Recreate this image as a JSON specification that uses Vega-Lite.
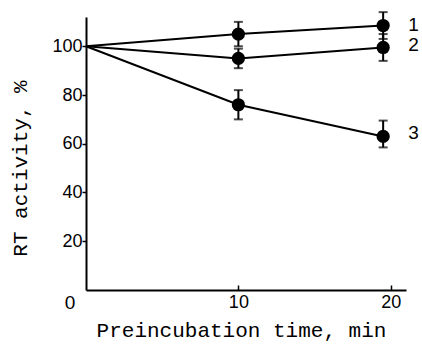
{
  "$schema": "https://vega.github.io/schema/vega-lite/v6.json",
  "width": 320,
  "height": 273,
  "autosize": "none",
  "padding": {"left": 86, "top": 17, "right": 16, "bottom": 60},
  "background": "white",
  "config": {"view": {"stroke": null}},
  "datasets": {
    "pts": [
      {"series": "1", "time": 0, "activity": 100},
      {"series": "1", "time": 10, "activity": 105, "lo": 100, "hi": 110},
      {"series": "1", "time": 19.5, "activity": 108.5, "lo": 103, "hi": 114},
      {"series": "2", "time": 0, "activity": 100},
      {"series": "2", "time": 10, "activity": 95, "lo": 91, "hi": 99},
      {"series": "2", "time": 19.5, "activity": 99.5, "lo": 94, "hi": 105},
      {"series": "3", "time": 0, "activity": 100},
      {"series": "3", "time": 10, "activity": 76, "lo": 70, "hi": 82},
      {"series": "3", "time": 19.5, "activity": 63, "lo": 58.5, "hi": 69.5}
    ],
    "labels": [
      {"label": "1", "time": 21.5, "activity": 108.7},
      {"label": "2", "time": 21.5, "activity": 100.5},
      {"label": "3", "time": 21.5, "activity": 64.4},
      {"label": "0", "time": -1.05, "activity": -5.5}
    ]
  },
  "layer": [
    {
      "data": {"name": "pts"},
      "mark": {"type": "line", "color": "black", "strokeWidth": 2},
      "encoding": {
        "x": {
          "field": "time", "type": "quantitative",
          "title": "Preincubation time, min",
          "scale": {"domain": [0, 21], "nice": false},
          "axis": {
            "values": [10, 20], "grid": false,
            "domainColor": "black", "domainWidth": 2,
            "tickColor": "black", "tickWidth": 1.5, "tickSize": -5,
            "labelFont": "Liberation Sans", "labelFontSize": 18, "labelColor": "black",
            "labelPadding": 8,
            "titleFont": "Liberation Mono", "titleFontSize": 21, "titleFontWeight": "normal",
            "titleColor": "black", "titleX": 155, "titleY": 40, "titleBaseline": "middle"
          }
        },
        "y": {
          "field": "activity", "type": "quantitative",
          "title": "RT activity, %",
          "scale": {"domain": [0, 112], "nice": false},
          "axis": {
            "values": [20, 40, 60, 80, 100], "grid": false,
            "domainColor": "black", "domainWidth": 2,
            "tickColor": "black", "tickWidth": 1.5, "tickSize": 4,
            "labelFont": "Liberation Sans", "labelFontSize": 18, "labelColor": "black",
            "labelPadding": 0,
            "titleFont": "Liberation Mono", "titleFontSize": 21, "titleFontWeight": "normal",
            "titleColor": "black", "titleX": -66, "titleY": 151, "titleBaseline": "middle", "titleAngle": 270
          }
        },
        "detail": {"field": "series"}
      }
    },
    {
      "data": {"name": "pts"},
      "transform": [{"filter": "datum.time > 0"}],
      "mark": {"type": "errorbar", "color": "black", "thickness": 2, "ticks": {"size": 9, "thickness": 2, "color": "black"}},
      "encoding": {
        "x": {"field": "time", "type": "quantitative", "title": "Preincubation time, min"},
        "y": {"field": "lo", "type": "quantitative", "title": "RT activity, %"},
        "y2": {"field": "hi"},
        "detail": {"field": "series"}
      }
    },
    {
      "data": {"name": "pts"},
      "transform": [{"filter": "datum.time > 0"}],
      "mark": {"type": "point", "filled": true, "color": "black", "opacity": 1, "size": 175},
      "encoding": {
        "x": {"field": "time", "type": "quantitative", "title": "Preincubation time, min"},
        "y": {"field": "activity", "type": "quantitative", "title": "RT activity, %"}
      }
    },
    {
      "data": {"name": "labels"},
      "mark": {"type": "text", "font": "Liberation Sans", "fontSize": 19, "color": "black", "clip": false, "baseline": "middle", "align": "center"},
      "encoding": {
        "x": {"field": "time", "type": "quantitative", "title": "Preincubation time, min"},
        "y": {"field": "activity", "type": "quantitative", "title": "RT activity, %"},
        "text": {"field": "label"}
      }
    }
  ]
}
